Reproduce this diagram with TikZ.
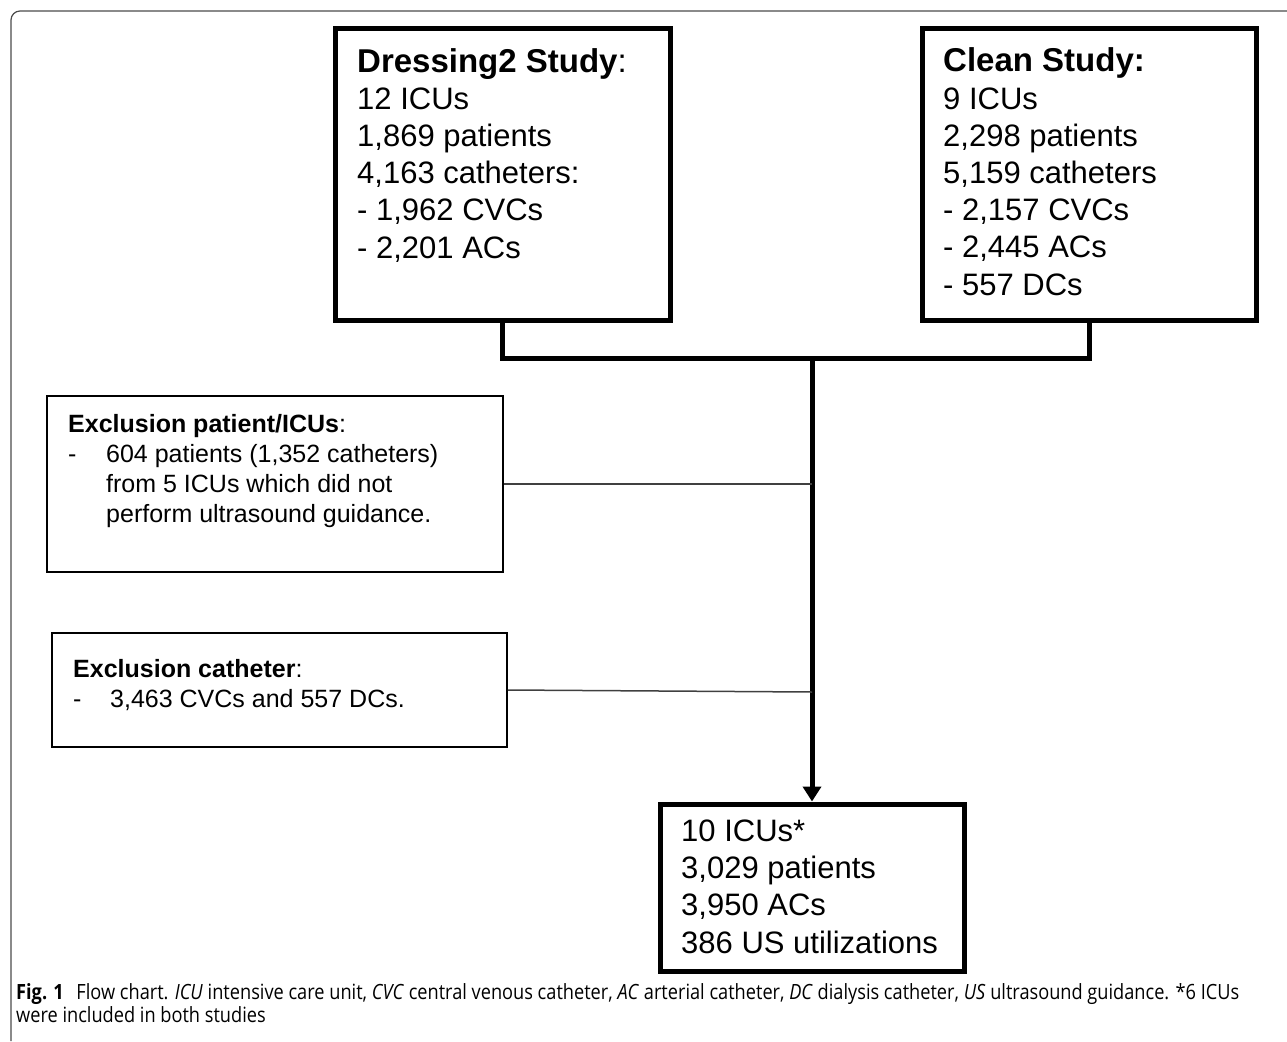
\documentclass[tikz,border=0pt]{standalone}
\usepackage{fontspec}
\setmainfont{Liberation Sans}
\newfontfamily\capfont[FakeStretch=0.866]{Open Sans}
\usetikzlibrary{arrows.meta}
\begin{document}
\begin{tikzpicture}[x=1pt,y=-1pt,
  thickbox/.style={draw=black, line width=5pt, inner sep=0pt, rectangle},
  thinbox/.style={draw=black, line width=1.5pt, inner sep=0pt, rectangle},
  bigtext/.style={anchor=base west, inner sep=0pt, align=left, font=\fontsize{31}{37.2}\selectfont},
  smalltext/.style={anchor=base west, inner sep=0pt, align=left, font=\fontsize{25}{30}\selectfont},
  tree/.style={line width=5pt, line join=miter},
  side/.style={draw=black!75, line width=1.5pt}]
\useasboundingbox (0,0) rectangle (1287,1041);
\draw[black!70, line width=1.2pt, rounded corners=9pt] (1287,11) -- (11,11) -- (11,1041);

\node[thickbox, minimum width=335pt, minimum height=291pt] (D) at (502.5,174.5) {};
\node[thickbox, minimum width=334pt, minimum height=291pt] (C) at (1089,174.5) {};
\node[thickbox, minimum width=304pt, minimum height=167pt] (B) at (812,887.5) {};
\node[thinbox, minimum width=456pt, minimum height=176pt] (E1) at (275,484) {};
\node[thinbox, minimum width=455pt, minimum height=114pt] (E2) at (279.5,690) {};

% base anchor of a multi-line node = baseline of its last line
\node[bigtext] (Dt) at (357,258) {{\fontsize{33}{37.2}\selectfont\textbf{Dressing2 Study}:}\\12 ICUs\\1,869 patients\\4,163 catheters:\\- 1,962 CVCs\\- 2,201 ACs};
\node[bigtext] (Ct) at (943,295) {{\fontsize{33}{37.2}\selectfont\textbf{Clean Study:}}\\9 ICUs\\2,298 patients\\5,159 catheters\\- 2,157 CVCs\\- 2,445 ACs\\- 557 DCs};
\node[bigtext] (Bt) at (681,953) {10 ICUs*\\3,029 patients\\3,950 ACs\\386 US utilizations};
\node[smalltext] (E1t) at (68,522) {\textbf{Exclusion patient/ICUs}:\\\makebox[38pt][l]{-}604 patients (1,352 catheters)\\\hspace*{38pt}from 5 ICUs which did not\\\hspace*{38pt}perform ultrasound guidance.};
\node[smalltext] (E2t) at (73,707) {\textbf{Exclusion catheter}:\\\makebox[37pt][l]{-}3,463 CVCs and 557 DCs.};

\coordinate (J) at (812,358);
\coordinate (K1) at (812,484);
\coordinate (K2) at (812,692);
\draw[tree] (D.south) |- (J) -| (C.south);
\draw[tree, -{Triangle[length=15pt,width=18pt]}] (J) -- (B.north);
\draw[side] (E1.east) -- (K1);
\draw[side] (E2.east) -- (K2);

\node[anchor=base west, inner sep=0pt, align=left, font=\capfont\fontsize{21}{23}\selectfont] (cap) at (16,1022) {\textbf{Fig. 1}\hspace{0.6em}Flow chart. \textit{ICU} intensive care unit, \textit{CVC} central venous catheter, \textit{AC} arterial catheter, \textit{DC} dialysis catheter, \textit{US} ultrasound guidance. *6 ICUs\\were included in both studies};
\end{tikzpicture}
\end{document}
